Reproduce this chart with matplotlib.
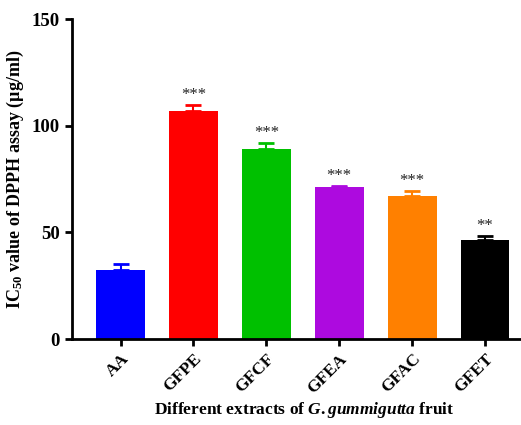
import numpy as np
import matplotlib
matplotlib.use("Agg")
import matplotlib.pyplot as plt

# data
extracts = ["AA", "GFPE", "GFCF", "GFEA", "GFAC", "GFET"]
ic50 = [32.3, 107.0, 88.9, 71.1, 67.0, 46.7]
err_up = [2.7, 2.8, 3.1, 0.8, 2.5, 1.7]
signif = ["", "***", "***", "***", "***", "**"]
colors = ["#0000FF", "#FF0000", "#00C000", "#AD0ADF", "#FF8000", "#000000"]

plt.rcParams['font.family'] = ['Liberation Serif', 'DejaVu Serif']
plt.rcParams['font.weight'] = 'bold'
plt.rcParams['mathtext.fontset'] = 'custom'
plt.rcParams['mathtext.rm'] = 'Liberation Serif:bold'
plt.rcParams['mathtext.it'] = 'Liberation Serif:italic:bold'
plt.rcParams['mathtext.bf'] = 'Liberation Serif:bold'

fig = plt.figure(figsize=(5.21, 4.25), dpi=100)
ax = fig.add_axes([0.138, 0.202, 0.86, 0.753])

x = np.arange(len(extracts))
ax.bar(x, ic50, width=0.67, color=colors, zorder=2)
for i in range(len(x)):
    ax.errorbar(x[i], ic50[i], yerr=[[0], [err_up[i]]], fmt='none', ecolor=colors[i],
                elinewidth=1.5, capsize=5.5, capthick=2, zorder=3)
    if signif[i]:
        ax.text(x[i], ic50[i] + err_up[i] + 0.8, signif[i], ha='center', va='bottom',
                fontsize=12, fontweight='normal', color='#222222')

ax.set_xlim(-0.668, 5.48)
ax.set_ylim(0, 150)
ax.set_yticks([0, 50, 100, 150])
ax.set_xticks(x)
ax.set_xticklabels(extracts, rotation=45, ha='right', rotation_mode='anchor', fontsize=12.5, fontweight='bold')
for lab in ax.get_yticklabels():
    lab.set_fontsize(13.5)
    lab.set_fontweight('bold')

for s in ['top', 'right']:
    ax.spines[s].set_visible(False)
for s in ['left', 'bottom']:
    ax.spines[s].set_linewidth(2)
ax.tick_params(width=2, length=5, direction='out')

ax.set_ylabel(r"IC$_{50}$ value of DPPH assay (µg/ml)", fontsize=13, fontweight='bold', labelpad=4)
ax.set_xlabel(r"Different extracts of $\it{G.gummigutta}$ fruit", fontsize=12.5, fontweight='bold')
ax.xaxis.set_label_coords(0.518, -0.19)

fig.savefig("out.png", dpi=100)
